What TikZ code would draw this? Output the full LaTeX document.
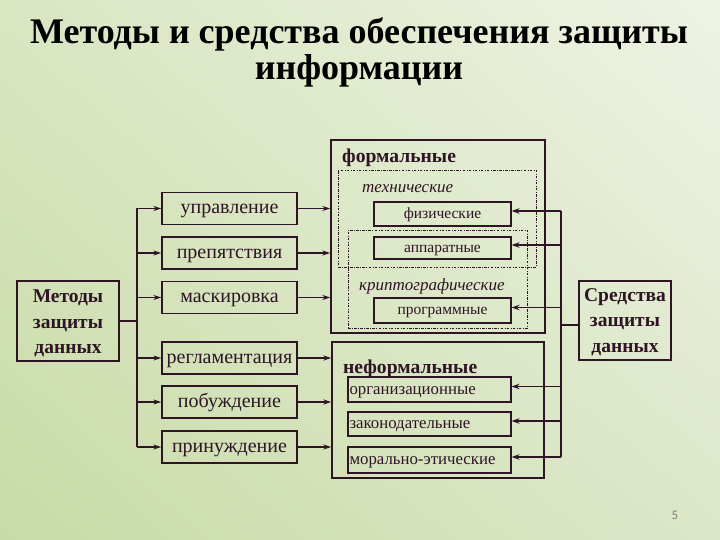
\documentclass[tikz,border=0pt]{standalone}
\usepackage{fontspec}
\setmainfont{Liberation Serif}
\newfontfamily\pgnumfont{Carlito}
\usetikzlibrary{arrows.meta,calc,shadings}
\definecolor{ink}{HTML}{2E1425}
\definecolor{bgUL}{HTML}{D9E6C2}
\definecolor{bgUR}{HTML}{EEF3E3}
\definecolor{bgLL}{HTML}{C8DBA6}
\definecolor{bgLR}{HTML}{DCE7C9}
\tikzset{
  box/.style={draw=ink, line width=1.3pt, text=ink, inner sep=0pt, align=center},
  midbox/.style={box, minimum width=135pt, minimum height=32pt, text height=15.5pt, text depth=4.8pt, font=\fontsize{20}{22}\selectfont},
  inbox/.style={box, line width=1.1pt, minimum width=137pt, text height=12.5pt, text depth=3.9pt, font=\fontsize{15.5}{17}\selectfont},
  infbox/.style={box, line width=1.1pt, minimum width=163pt, text width=160pt, align=left, text height=13.5pt, text depth=4.2pt, font=\fontsize{16.8}{18}\selectfont},
  sidebox/.style={draw=ink, line width=1.3pt, inner sep=0pt},
  sidetext/.style={text=ink, align=center, inner sep=0pt, font=\fontsize{19.5}{25.5}\selectfont\bfseries},
  bigbox/.style={draw=ink, line width=1.4pt, inner sep=0pt},
  dashbox/.style={draw=ink, line width=0.6pt, inner sep=0pt, dash pattern=on 2.5pt off 1.5pt on 0.6pt off 1.5pt},
  larr/.style={draw=ink, line width=1.4pt, -{Stealth[length=8pt,width=5pt]}},
  rarrA/.style={draw=ink, line width=1.8pt, -{Stealth[length=8pt,width=5.5pt]}},
  rarrB/.style={draw=ink, line width=1.1pt, -{Stealth[length=8pt,width=5.5pt]}},
  bus/.style={draw=ink, line width=1.6pt},
  grplabel/.style={text=ink, anchor=base west, inner sep=0pt, font=\fontsize{19.6}{22}\selectfont\bfseries},
  sublabel/.style={text=ink, anchor=base west, inner sep=0pt, font=\fontsize{17}{19}\selectfont\itshape},
  titletext/.style={text=black, anchor=base, inner sep=0pt, font=\fontsize{36}{40}\selectfont\bfseries},
}
\begin{document}
\begin{tikzpicture}[x=1pt,y=-1pt]
\useasboundingbox (0,0) rectangle (720,540);
\shade[upper left=bgUL, upper right=bgUR, lower left=bgLL, lower right=bgLR] (0,540) rectangle (720,0);

% title
\node[titletext] (title1) at (359,44) {Методы и средства обеспечения защиты};
\node[titletext] (title2) at (359,80) {информации};

% left box
\node[sidebox, minimum width=102pt, minimum height=80pt] (L) at (68,321) {};
\node[sidetext] (Lt) at (68,323.5) {Методы\\защиты\\данных};
% right box
\node[sidebox, minimum width=92pt, minimum height=79pt] (R) at (625,320.5) {};
\node[sidetext] (Rt) at (625,322) {Средства\\защиты\\данных};

% middle boxes
\node[midbox] (m1) at (229.5,208.5) {управление};
\node[midbox] (m2) at (229.5,253) {препятствия};
\node[midbox] (m3) at (229.5,297.5) {маскировка};
\node[midbox] (m4) at (229.5,358) {регламентация};
\node[midbox] (m5) at (229.5,402) {побуждение};
\node[midbox] (m6) at (229.5,447) {принуждение};

% big boxes
\node[bigbox, minimum width=214pt, minimum height=193pt] (F) at (438,236.5) {};
\node[bigbox, minimum width=212pt, minimum height=136pt] (N) at (438,410) {};

% dashed groups
\node[dashbox, minimum width=198pt, minimum height=97pt] (T) at (437,218.5) {};
\node[dashbox, minimum width=179pt, minimum height=98pt] (K) at (437.5,279) {};

\node[grplabel] (fl) at (342,163) {формальные};
\node[grplabel] (nl) at (343,373) {неформальные};
\node[sublabel] (tl) at (362,193) {технические};
\node[sublabel] (kl) at (359,290) {криптографические};

% inner boxes
\node[inbox, minimum height=24pt] (p1) at (442.5,214) {физические};
\node[inbox, minimum height=22pt] (p2) at (442.5,248) {аппаратные};
\node[inbox, minimum height=25pt] (p3) at (442.5,310.5) {программные};
\node[infbox, minimum height=25pt] (q1) at (429.5,389.5) {организационные};
\node[infbox, minimum height=24pt] (q2) at (429.5,424) {законодательные};
\node[infbox, minimum height=26pt] (q3) at (429.5,460) {морально-этические};

% left bus
\coordinate (lb) at (137,321);
\draw[bus] (L.east) -- (lb);
\draw[bus] (m1.west -| lb) -- (m6.west -| lb);
\foreach \m in {m1,m2,m3,m4,m5,m6} \draw[larr] (\m.west -| lb) -- (\m.west);
\foreach \m in {m1,m2,m3} \draw[larr] (\m.east) -- (\m.east -| F.west);
\foreach \m in {m4,m5,m6} \draw[larr] (\m.east) -- (\m.east -| N.west);

% right bus
\coordinate (rb) at (561,325);
\foreach \b in {p1,p2,p3,q1,q2,q3} \coordinate (\b a) at ($(\b.east)+(0,-3)$);
\draw[bus] (R.west |- rb) -- (rb);
\draw[bus] (p1a -| rb) -- (q3a -| rb);
\foreach \p in {p1,p2,p3} \draw[rarrA] (\p a -| rb) -- (\p a);
\foreach \q in {q1,q2,q3} \draw[rarrB] (\q a -| rb) -- (\q a);

\node[text=black!50, font=\pgnumfont\fontsize{13}{15}\selectfont] (pg) at (675,515) {5};
\end{tikzpicture}
\end{document}
